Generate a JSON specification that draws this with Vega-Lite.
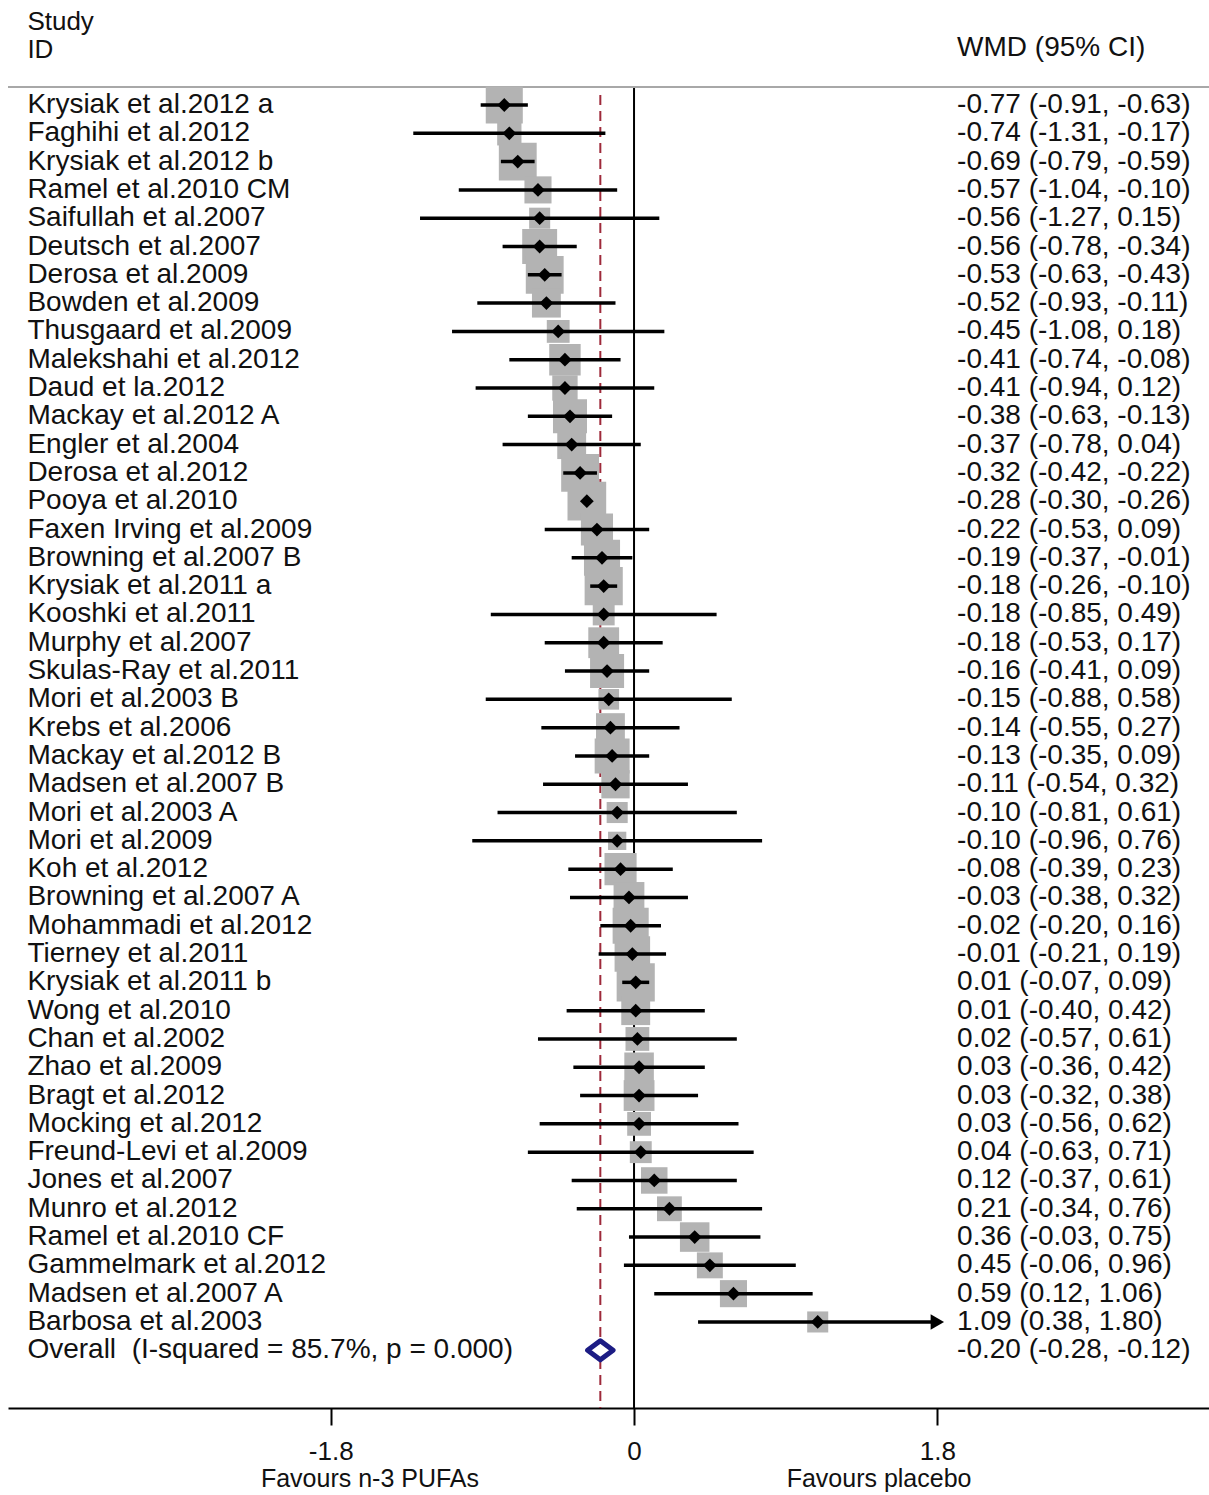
{
  "$schema": "https://vega.github.io/schema/vega-lite/v6.json",
  "width": 1201,
  "height": 1408,
  "autosize": {"type": "none"},
  "padding": {"left": 8, "top": 0, "right": 0, "bottom": 87},
  "background": "white",
  "config": {
    "view": {"stroke": null},
    "axisX": {
      "domainColor": "#000000", "domainWidth": 2, "tickColor": "#000000", "tickWidth": 2, "tickSize": 17,
      "labelFont": "Liberation Sans", "labelFontSize": 26, "labelColor": "#111111", "labelPadding": 26,
      "labelBaseline": "middle", "grid": false, "labelFlush": false, "labelOverlap": false
    },
    "text": {"font": "Liberation Sans", "fontSize": 28, "color": "#111111"}
  },
  "data": {"values": [
    {"study": "Krysiak et al.2012 a", "est": -0.77, "lo": -0.91, "hi": -0.63, "w": 16.64, "ci": "-0.77 (-0.91, -0.63)", "kind": "study"},
    {"study": "Faghihi et al.2012", "est": -0.74, "lo": -1.31, "hi": -0.17, "w": 7.16, "ci": "-0.74 (-1.31, -0.17)", "kind": "study"},
    {"study": "Krysiak et al.2012 b", "est": -0.69, "lo": -0.79, "hi": -0.59, "w": 17.36, "ci": "-0.69 (-0.79, -0.59)", "kind": "study"},
    {"study": "Ramel et al.2010 CM", "est": -0.57, "lo": -1.04, "hi": -0.10, "w": 8.89, "ci": "-0.57 (-1.04, -0.10)", "kind": "study"},
    {"study": "Saifullah et al.2007", "est": -0.56, "lo": -1.27, "hi": 0.15, "w": 5.37, "ci": "-0.56 (-1.27, 0.15)", "kind": "study"},
    {"study": "Deutsch et al.2007", "est": -0.56, "lo": -0.78, "hi": -0.34, "w": 14.79, "ci": "-0.56 (-0.78, -0.34)", "kind": "study"},
    {"study": "Derosa et al.2009", "est": -0.53, "lo": -0.63, "hi": -0.43, "w": 17.36, "ci": "-0.53 (-0.63, -0.43)", "kind": "study"},
    {"study": "Bowden et al.2009", "est": -0.52, "lo": -0.93, "hi": -0.11, "w": 10.12, "ci": "-0.52 (-0.93, -0.11)", "kind": "study"},
    {"study": "Thusgaard et al.2009", "est": -0.45, "lo": -1.08, "hi": 0.18, "w": 6.32, "ci": "-0.45 (-1.08, 0.18)", "kind": "study"},
    {"study": "Malekshahi et al.2012", "est": -0.41, "lo": -0.74, "hi": -0.08, "w": 11.99, "ci": "-0.41 (-0.74, -0.08)", "kind": "study"},
    {"study": "Daud et la.2012", "est": -0.41, "lo": -0.94, "hi": 0.12, "w": 7.81, "ci": "-0.41 (-0.94, 0.12)", "kind": "study"},
    {"study": "Mackay et al.2012 A", "est": -0.38, "lo": -0.63, "hi": -0.13, "w": 14.03, "ci": "-0.38 (-0.63, -0.13)", "kind": "study"},
    {"study": "Engler et al.2004", "est": -0.37, "lo": -0.78, "hi": 0.04, "w": 10.12, "ci": "-0.37 (-0.78, 0.04)", "kind": "study"},
    {"study": "Derosa et al.2012", "est": -0.32, "lo": -0.42, "hi": -0.22, "w": 17.36, "ci": "-0.32 (-0.42, -0.22)", "kind": "study"},
    {"study": "Pooya et al.2010", "est": -0.28, "lo": -0.30, "hi": -0.26, "w": 18.15, "ci": "-0.28 (-0.30, -0.26)", "kind": "study"},
    {"study": "Faxen Irving et al.2009", "est": -0.22, "lo": -0.53, "hi": 0.09, "w": 12.5, "ci": "-0.22 (-0.53, 0.09)", "kind": "study"},
    {"study": "Browning et al.2007 B", "est": -0.19, "lo": -0.37, "hi": -0.01, "w": 15.77, "ci": "-0.19 (-0.37, -0.01)", "kind": "study"},
    {"study": "Krysiak et al.2011 a", "est": -0.18, "lo": -0.26, "hi": -0.10, "w": 17.64, "ci": "-0.18 (-0.26, -0.10)", "kind": "study"},
    {"study": "Kooshki et al.2011", "est": -0.18, "lo": -0.85, "hi": 0.49, "w": 5.82, "ci": "-0.18 (-0.85, 0.49)", "kind": "study"},
    {"study": "Murphy et al.2007", "est": -0.18, "lo": -0.53, "hi": 0.17, "w": 11.51, "ci": "-0.18 (-0.53, 0.17)", "kind": "study"},
    {"study": "Skulas-Ray et al.2011", "est": -0.16, "lo": -0.41, "hi": 0.09, "w": 14.03, "ci": "-0.16 (-0.41, 0.09)", "kind": "study"},
    {"study": "Mori et al.2003 B", "est": -0.15, "lo": -0.88, "hi": 0.58, "w": 5.16, "ci": "-0.15 (-0.88, 0.58)", "kind": "study"},
    {"study": "Krebs et al.2006", "est": -0.14, "lo": -0.55, "hi": 0.27, "w": 10.12, "ci": "-0.14 (-0.55, 0.27)", "kind": "study"},
    {"study": "Mackay et al.2012 B", "est": -0.13, "lo": -0.35, "hi": 0.09, "w": 14.79, "ci": "-0.13 (-0.35, 0.09)", "kind": "study"},
    {"study": "Madsen et al.2007 B", "est": -0.11, "lo": -0.54, "hi": 0.32, "w": 9.70, "ci": "-0.11 (-0.54, 0.32)", "kind": "study"},
    {"study": "Mori et al.2003 A", "est": -0.10, "lo": -0.81, "hi": 0.61, "w": 5.37, "ci": "-0.10 (-0.81, 0.61)", "kind": "study"},
    {"study": "Mori et al.2009", "est": -0.10, "lo": -0.96, "hi": 0.76, "w": 4.04, "ci": "-0.10 (-0.96, 0.76)", "kind": "study"},
    {"study": "Koh et al.2012", "est": -0.08, "lo": -0.39, "hi": 0.23, "w": 12.5, "ci": "-0.08 (-0.39, 0.23)", "kind": "study"},
    {"study": "Browning et al.2007 A", "est": -0.03, "lo": -0.38, "hi": 0.32, "w": 11.51, "ci": "-0.03 (-0.38, 0.32)", "kind": "study"},
    {"study": "Mohammadi et al.2012", "est": -0.02, "lo": -0.20, "hi": 0.16, "w": 15.77, "ci": "-0.02 (-0.20, 0.16)", "kind": "study"},
    {"study": "Tierney et al.2011", "est": -0.01, "lo": -0.21, "hi": 0.19, "w": 15.29, "ci": "-0.01 (-0.21, 0.19)", "kind": "study"},
    {"study": "Krysiak et al.2011 b", "est": 0.01, "lo": -0.07, "hi": 0.09, "w": 17.64, "ci": "0.01 (-0.07, 0.09)", "kind": "study"},
    {"study": "Wong et al.2010", "est": 0.01, "lo": -0.40, "hi": 0.42, "w": 10.12, "ci": "0.01 (-0.40, 0.42)", "kind": "study"},
    {"study": "Chan et al.2002", "est": 0.02, "lo": -0.57, "hi": 0.61, "w": 6.87, "ci": "0.02 (-0.57, 0.61)", "kind": "study"},
    {"study": "Zhao et al.2009", "est": 0.03, "lo": -0.36, "hi": 0.42, "w": 10.57, "ci": "0.03 (-0.36, 0.42)", "kind": "study"},
    {"study": "Bragt et al.2012", "est": 0.03, "lo": -0.32, "hi": 0.38, "w": 11.51, "ci": "0.03 (-0.32, 0.38)", "kind": "study"},
    {"study": "Mocking et al.2012", "est": 0.03, "lo": -0.56, "hi": 0.62, "w": 6.87, "ci": "0.03 (-0.56, 0.62)", "kind": "study"},
    {"study": "Freund-Levi et al.2009", "est": 0.04, "lo": -0.63, "hi": 0.71, "w": 5.82, "ci": "0.04 (-0.63, 0.71)", "kind": "study"},
    {"study": "Jones et al.2007", "est": 0.12, "lo": -0.37, "hi": 0.61, "w": 8.51, "ci": "0.12 (-0.37, 0.61)", "kind": "study"},
    {"study": "Munro et al.2012", "est": 0.21, "lo": -0.34, "hi": 0.76, "w": 7.47, "ci": "0.21 (-0.34, 0.76)", "kind": "study"},
    {"study": "Ramel et al.2010 CF", "est": 0.36, "lo": -0.03, "hi": 0.75, "w": 10.57, "ci": "0.36 (-0.03, 0.75)", "kind": "study"},
    {"study": "Gammelmark et al.2012", "est": 0.45, "lo": -0.06, "hi": 0.96, "w": 8.15, "ci": "0.45 (-0.06, 0.96)", "kind": "study"},
    {"study": "Madsen et al.2007 A", "est": 0.59, "lo": 0.12, "hi": 1.06, "w": 8.89, "ci": "0.59 (0.12, 1.06)", "kind": "study"},
    {"study": "Barbosa et al.2003", "est": 1.09, "lo": 0.38, "hi": 1.80, "w": 5.37, "ci": "1.09 (0.38, 1.80)", "kind": "study"},
    {"study": "Overall\u00a0 (I-squared = 85.7%, p = 0.000)", "est": -0.20, "lo": -0.28, "hi": -0.12, "w": null, "ci": "-0.20 (-0.28, -0.12)", "kind": "overall"}
  ]},
  "transform": [{"window": [{"op": "row_number", "as": "r"}]}],
  "layer": [
    {
      "data": {"values": [{}]},
      "mark": {"type": "rule", "color": "#a8a8a8", "strokeWidth": 2},
      "encoding": {
        "x": {"datum": -3.715, "type": "quantitative", "scale": {"domain": [-3.715, 3.412], "nice": false, "zero": false}, "axis": {"values": [-1.8, 0, 1.8], "labelExpr": "datum.value < 0 ? '-1.8' : datum.value > 0 ? '1.8' : '0'", "title": null}},
        "x2": {"datum": 3.412},
        "y": {"datum": 0.364, "type": "quantitative", "scale": {"domain": [-2.71, 47.04], "reverse": true, "nice": false, "zero": false}, "axis": null}
      }
    },
    {
      "data": {"values": [{}]},
      "mark": {"type": "rule", "color": "#000000", "strokeWidth": 2},
      "encoding": {
        "x": {"datum": 0, "type": "quantitative", "scale": {"domain": [-3.715, 3.412], "nice": false, "zero": false}, "axis": {"values": [-1.8, 0, 1.8], "labelExpr": "datum.value < 0 ? '-1.8' : datum.value > 0 ? '1.8' : '0'", "title": null}},
        "y": {"datum": 0.40, "type": "quantitative", "scale": {"domain": [-2.71, 47.04], "reverse": true, "nice": false, "zero": false}, "axis": null},
        "y2": {"datum": 47.04}
      }
    },
    {
      "transform": [{"filter": "datum.kind == 'overall'"}],
      "mark": {"type": "rule", "color": "#9e2a3a", "strokeWidth": 2, "strokeDash": [10, 6]},
      "encoding": {
        "x": {"field": "est", "type": "quantitative", "scale": {"domain": [-3.715, 3.412], "nice": false, "zero": false}, "axis": {"values": [-1.8, 0, 1.8], "labelExpr": "datum.value < 0 ? '-1.8' : datum.value > 0 ? '1.8' : '0'", "title": null}},
        "y": {"datum": 0.65, "type": "quantitative", "scale": {"domain": [-2.71, 47.04], "reverse": true, "nice": false, "zero": false}, "axis": null},
        "y2": {"datum": 47.04}
      }
    },
    {
      "transform": [{"filter": "datum.kind == 'study'"}],
      "mark": {"type": "point", "shape": "square", "filled": true, "color": "#b3b3b3", "opacity": 1, "strokeWidth": 0},
      "encoding": {
        "x": {"field": "est", "type": "quantitative", "scale": {"domain": [-3.715, 3.412], "nice": false, "zero": false}, "axis": {"values": [-1.8, 0, 1.8], "labelExpr": "datum.value < 0 ? '-1.8' : datum.value > 0 ? '1.8' : '0'", "title": null}},
        "y": {"field": "r", "type": "quantitative", "scale": {"domain": [-2.71, 47.04], "reverse": true, "nice": false, "zero": false}, "axis": null},
        "size": {"field": "w", "type": "quantitative", "scale": {"type": "linear", "domain": [0, 20], "range": [0, 1650], "zero": true}, "legend": null}
      }
    },
    {
      "transform": [{"filter": "datum.kind == 'study'"}],
      "mark": {"type": "rule", "color": "#000000", "strokeWidth": 3.5},
      "encoding": {
        "x": {"field": "lo", "type": "quantitative", "scale": {"domain": [-3.715, 3.412], "nice": false, "zero": false}, "axis": {"values": [-1.8, 0, 1.8], "labelExpr": "datum.value < 0 ? '-1.8' : datum.value > 0 ? '1.8' : '0'", "title": null}},
        "x2": {"field": "hi"},
        "y": {"field": "r", "type": "quantitative", "scale": {"domain": [-2.71, 47.04], "reverse": true, "nice": false, "zero": false}, "axis": null}
      }
    },
    {
      "transform": [{"filter": "datum.kind == 'study'"}],
      "mark": {"type": "point", "shape": "diamond", "filled": true, "color": "#000000", "opacity": 1, "size": 190},
      "encoding": {
        "x": {"field": "est", "type": "quantitative", "scale": {"domain": [-3.715, 3.412], "nice": false, "zero": false}, "axis": {"values": [-1.8, 0, 1.8], "labelExpr": "datum.value < 0 ? '-1.8' : datum.value > 0 ? '1.8' : '0'", "title": null}},
        "y": {"field": "r", "type": "quantitative", "scale": {"domain": [-2.71, 47.04], "reverse": true, "nice": false, "zero": false}, "axis": null}
      }
    },
    {
      "transform": [{"filter": "datum.kind == 'study' && datum.hi >= 1.8"}],
      "mark": {"type": "point", "shape": "triangle-right", "filled": true, "color": "#000000", "opacity": 1, "size": 240, "dx": -7},
      "encoding": {
        "x": {"field": "hi", "type": "quantitative", "scale": {"domain": [-3.715, 3.412], "nice": false, "zero": false}, "axis": {"values": [-1.8, 0, 1.8], "labelExpr": "datum.value < 0 ? '-1.8' : datum.value > 0 ? '1.8' : '0'", "title": null}},
        "y": {"field": "r", "type": "quantitative", "scale": {"domain": [-2.71, 47.04], "reverse": true, "nice": false, "zero": false}, "axis": null}
      }
    },
    {
      "transform": [{"filter": "datum.kind == 'overall'"}],
      "mark": {"type": "point", "shape": "M-1,0L0,-0.75L1,0L0,0.75Z", "filled": false, "fill": "#ffffff", "fillOpacity": 1, "stroke": "#1c1c84", "strokeWidth": 5, "strokeJoin": "round", "opacity": 1, "size": 650},
      "encoding": {
        "x": {"field": "est", "type": "quantitative", "scale": {"domain": [-3.715, 3.412], "nice": false, "zero": false}, "axis": {"values": [-1.8, 0, 1.8], "labelExpr": "datum.value < 0 ? '-1.8' : datum.value > 0 ? '1.8' : '0'", "title": null}},
        "y": {"field": "r", "type": "quantitative", "scale": {"domain": [-2.71, 47.04], "reverse": true, "nice": false, "zero": false}, "axis": null}
      }
    },
    {
      "mark": {"type": "text", "align": "left", "baseline": "middle"},
      "encoding": {
        "x": {"datum": -3.6, "type": "quantitative", "scale": {"domain": [-3.715, 3.412], "nice": false, "zero": false}, "axis": {"values": [-1.8, 0, 1.8], "labelExpr": "datum.value < 0 ? '-1.8' : datum.value > 0 ? '1.8' : '0'", "title": null}},
        "y": {"field": "r", "type": "quantitative", "scale": {"domain": [-2.71, 47.04], "reverse": true, "nice": false, "zero": false}, "axis": null},
        "text": {"field": "study", "type": "nominal"}
      }
    },
    {
      "mark": {"type": "text", "align": "left", "baseline": "middle"},
      "encoding": {
        "x": {"datum": 1.917, "type": "quantitative", "scale": {"domain": [-3.715, 3.412], "nice": false, "zero": false}, "axis": {"values": [-1.8, 0, 1.8], "labelExpr": "datum.value < 0 ? '-1.8' : datum.value > 0 ? '1.8' : '0'", "title": null}},
        "y": {"field": "r", "type": "quantitative", "scale": {"domain": [-2.71, 47.04], "reverse": true, "nice": false, "zero": false}, "axis": null},
        "text": {"field": "ci", "type": "nominal"}
      }
    },
    {
      "data": {"values": [{}]},
      "mark": {"type": "text", "align": "left", "baseline": "middle", "text": "Study", "fontSize": 26},
      "encoding": {
        "x": {"datum": -3.6, "type": "quantitative", "scale": {"domain": [-3.715, 3.412], "nice": false, "zero": false}, "axis": {"values": [-1.8, 0, 1.8], "labelExpr": "datum.value < 0 ? '-1.8' : datum.value > 0 ? '1.8' : '0'", "title": null}},
        "y": {"datum": -1.95, "type": "quantitative", "scale": {"domain": [-2.71, 47.04], "reverse": true, "nice": false, "zero": false}, "axis": null}
      }
    },
    {
      "data": {"values": [{}]},
      "mark": {"type": "text", "align": "left", "baseline": "middle", "text": "ID", "fontSize": 26},
      "encoding": {
        "x": {"datum": -3.6, "type": "quantitative", "scale": {"domain": [-3.715, 3.412], "nice": false, "zero": false}, "axis": {"values": [-1.8, 0, 1.8], "labelExpr": "datum.value < 0 ? '-1.8' : datum.value > 0 ? '1.8' : '0'", "title": null}},
        "y": {"datum": -0.96, "type": "quantitative", "scale": {"domain": [-2.71, 47.04], "reverse": true, "nice": false, "zero": false}, "axis": null}
      }
    },
    {
      "data": {"values": [{}]},
      "mark": {"type": "text", "align": "left", "baseline": "middle", "text": "WMD (95% CI)"},
      "encoding": {
        "x": {"datum": 1.917, "type": "quantitative", "scale": {"domain": [-3.715, 3.412], "nice": false, "zero": false}, "axis": {"values": [-1.8, 0, 1.8], "labelExpr": "datum.value < 0 ? '-1.8' : datum.value > 0 ? '1.8' : '0'", "title": null}},
        "y": {"datum": -1.03, "type": "quantitative", "scale": {"domain": [-2.71, 47.04], "reverse": true, "nice": false, "zero": false}, "axis": null}
      }
    },
    {
      "data": {"values": [{}]},
      "mark": {"type": "text", "align": "center", "baseline": "middle", "text": "Favours n-3 PUFAs", "fontSize": 25},
      "encoding": {
        "x": {"datum": -1.567, "type": "quantitative", "scale": {"domain": [-3.715, 3.412], "nice": false, "zero": false}, "axis": {"values": [-1.8, 0, 1.8], "labelExpr": "datum.value < 0 ? '-1.8' : datum.value > 0 ? '1.8' : '0'", "title": null}},
        "y": {"datum": 49.55, "type": "quantitative", "scale": {"domain": [-2.71, 47.04], "reverse": true, "nice": false, "zero": false}, "axis": null}
      }
    },
    {
      "data": {"values": [{}]},
      "mark": {"type": "text", "align": "center", "baseline": "middle", "text": "Favours placebo", "fontSize": 25},
      "encoding": {
        "x": {"datum": 1.454, "type": "quantitative", "scale": {"domain": [-3.715, 3.412], "nice": false, "zero": false}, "axis": {"values": [-1.8, 0, 1.8], "labelExpr": "datum.value < 0 ? '-1.8' : datum.value > 0 ? '1.8' : '0'", "title": null}},
        "y": {"datum": 49.55, "type": "quantitative", "scale": {"domain": [-2.71, 47.04], "reverse": true, "nice": false, "zero": false}, "axis": null}
      }
    }
  ]
}
